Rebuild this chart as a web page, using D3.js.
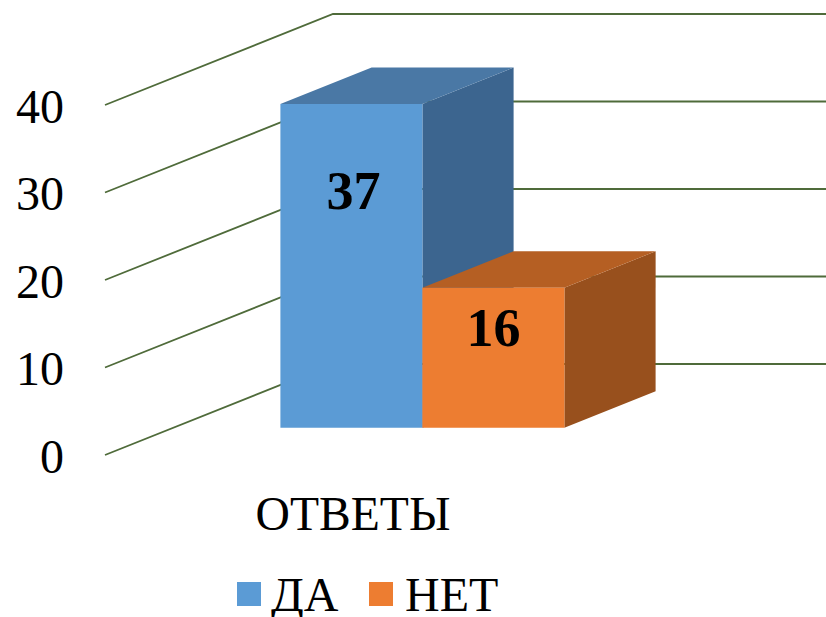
<!DOCTYPE html>
<html><head><meta charset="utf-8">
<script src="https://cdn.jsdelivr.net/npm/d3@7"></script>
<style>html,body{margin:0;padding:0;background:#fff}svg{display:block}text{font-family:"Liberation Serif",serif;fill:#000}</style>
</head><body><svg id="c" width="826" height="617"></svg>
<script>
const seriesNames = ["ДА", "НЕТ"];
const seriesValues = [37, 16];
const categoryLabel = "ОТВЕТЫ";
const tickValues = [0, 10, 20, 30, 40];
const frontColors = ["#5B9BD5", "#ED7D31"];
const topColors = ["#4A78A5", "#B55F23"];
const sideColors = ["#3C658F", "#98501D"];

const svg = d3.select("#c");
const y = d3.scaleLinear().domain([0, 40]).range([455, 105]);
const depthX = d3.scaleLinear().domain([0, 1]).range([0, 228]);
const depthY = d3.scaleLinear().domain([0, 1]).range([0, -91]);
const x = d3.scaleBand().domain(seriesNames).range([212, 496]);
const P = (px, v, d) => [px + depthX(d), y(v) + depthY(d)];
const line = d3.line();
const poly = pts => line(pts) + "Z";

// gridlines
svg.append("g").selectAll("path").data(tickValues).join("path")
  .attr("d", v => line([[105, y(v)], P(105, v, 1), [826, y(v) + depthY(1)]]))
  .attr("fill", "none").attr("stroke", "#4F6B3A").attr("stroke-width", 1.8);

// value axis labels
const axis = svg.append("g").attr("transform", "translate(64,2)")
  .call(d3.axisLeft(y).tickValues(tickValues).tickSize(0).tickPadding(0));
axis.select(".domain").remove();
axis.selectAll("text").attr("font-family", "Liberation Serif").attr("font-size", 48).attr("dy", "0.32em").attr("fill", "#000");

// 3D bars
const bars = svg.append("g").selectAll("g")
  .data(seriesNames.map((n, i) => ({n, v: seriesValues[i], i}))).join("g");
const d0 = 0.3, d1 = 0.7;
bars.append("path").attr("fill", b => sideColors[b.i]).attr("d", b => {
  const r = x(b.n) + x.bandwidth();
  return poly([P(r, b.v, d0), P(r, b.v, d1), P(r, 0, d1), P(r, 0, d0)]);
});
bars.append("path").attr("fill", b => topColors[b.i]).attr("d", b => {
  const l = x(b.n), r = l + x.bandwidth();
  return poly([P(l, b.v, d0), P(l, b.v, d1), P(r, b.v, d1), P(r, b.v, d0)]);
});
bars.append("path").attr("fill", b => frontColors[b.i]).attr("d", b => {
  const l = x(b.n), r = l + x.bandwidth();
  return poly([P(l, b.v, d0), P(r, b.v, d0), P(r, 0, d0), P(l, 0, d0)]);
});
bars.append("text").text(b => b.v)
  .attr("text-anchor", "middle").attr("font-weight", "bold").attr("font-size", 54)
  .attr("x", b => P(x(b.n) + x.bandwidth() / 2, b.v, d0)[0] + (b.i === 0 ? 2 : 0))
  .attr("y", b => P(0, b.v, d0)[1] + (b.i === 0 ? 105.5 : 58.5));

// category label
svg.append("text").text(categoryLabel).attr("x", 353).attr("y", 530)
  .attr("text-anchor", "middle").attr("font-size", 47.6);

// legend
const legendX = [237, 369];
const lg = svg.append("g").selectAll("g").data(seriesNames).join("g")
  .attr("transform", (d, i) => `translate(${legendX[i]},582)`);
lg.append("rect").attr("width", 24).attr("height", 24).attr("fill", (d, i) => frontColors[i]);
lg.append("text").text(d => d).attr("x", (d, i) => i ? 36 : 34).attr("y", 28.5).attr("font-size", 48);
</script></body></html>
